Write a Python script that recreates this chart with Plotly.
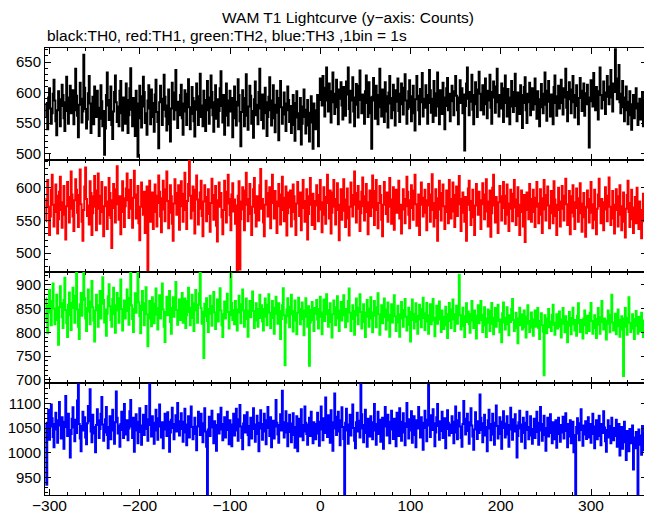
import plotly.graph_objects as go
from plotly.subplots import make_subplots

T0 = -304  # start time of first 1-s bin

th0 = [
583,561,540,592,607,574,549,566,598,621,587,553,530,571,602,589,545,578,613,596,558,537,584,626,570,549,592,611,566,580,
604,548,571,639,595,562,527,580,616,590,551,569,662,608,573,541,556,599,627,582,534,565,593,548,610,587,560,603,575,529,
557,612,586,545,570,498,541,596,633,579,555,588,610,547,524,569,601,628,584,552,577,545,603,619,566,538,592,571,549,615,
588,534,563,607,640,572,545,591,566,529,603,582,495,558,611,594,543,577,626,601,550,566,531,587,612,574,548,605,583,560,
536,597,621,568,552,509,584,611,590,547,572,629,593,561,538,579,605,548,520,574,616,589,556,600,637,571,542,585,563,596,
613,558,531,582,604,569,547,598,622,576,540,565,609,591,553,528,586,615,572,547,594,631,560,579,545,603,588,537,571,619,
592,549,575,628,601,563,536,584,612,557,589,544,570,607,635,578,551,596,531,562,615,587,546,574,603,569,591,527,558,610,
585,546,579,622,596,553,512,568,604,583,545,591,630,562,539,577,611,595,549,570,526,589,618,563,580,548,601,639,574,555,
597,541,566,608,584,529,560,593,625,571,546,587,612,558,535,580,603,567,522,591,619,576,549,564,600,582,537,571,610,588,
552,578,534,569,596,547,521,583,602,559,540,566,591,515,549,577,605,560,533,572,588,546,520,567,594,551,508,582,563,540,
571,596,512,588,623,603,579,627,592,561,608,641,587,569,615,596,551,602,633,584,565,598,621,576,548,605,590,617,579,556,
609,584,562,618,597,641,573,551,603,587,625,569,545,592,614,580,559,611,636,588,566,597,574,549,602,628,583,560,617,592,
566,508,593,624,587,557,611,583,548,596,639,576,561,605,588,552,617,594,569,543,600,627,582,558,591,613,571,546,604,585,
623,570,552,598,615,581,564,608,630,587,549,573,602,620,576,553,594,611,566,538,589,627,595,571,548,606,584,632,561,590,
575,612,596,549,583,637,604,567,590,552,619,585,562,599,633,577,548,604,589,565,616,592,540,578,607,624,571,598,553,586,
611,589,563,602,627,595,571,548,592,620,583,607,566,597,505,578,615,641,590,563,601,585,629,572,548,596,617,581,560,605,
634,598,571,589,612,564,596,623,581,558,603,587,629,575,549,601,618,592,567,610,639,584,561,596,574,615,588,552,607,628,
583,561,606,592,548,577,619,601,568,594,631,578,553,600,587,565,612,596,542,583,609,625,571,550,598,584,616,563,589,607,
572,596,623,581,557,602,589,545,576,614,598,566,591,633,580,554,603,619,585,561,597,575,548,609,628,583,562,594,611,574,
598,621,583,564,607,592,639,575,553,601,617,589,566,605,627,584,559,596,612,578,548,591,624,603,570,587,615,562,599,581,
613,592,510,586,620,605,577,632,598,571,609,585,556,602,641,596,574,588,618,600,565,593,627,610,581,604,637,592,569,615,
601,671,623,589,607,645,584,566,598,619,576,553,592,610,571,548,585,602,563,539,581,596,558,574,607,582,547,569,590,556,578,601,545,572,588,563,
]

th1 = [
549,583,612,571,528,556,597,620,574,541,563,605,588,530,552,594,617,566,539,578,603,559,521,572,609,586,547,568,625,590,
556,534,581,613,597,562,540,589,628,575,548,519,566,602,631,583,557,573,544,610,592,528,561,587,618,571,535,596,622,568,
545,588,609,563,526,572,601,579,537,558,615,592,554,508,581,606,569,547,598,633,575,551,587,529,563,610,584,540,572,599,
622,581,554,597,612,568,539,585,626,590,553,574,603,546,520,571,608,587,559,594,531,566,602,474,579,611,548,570,593,537,
563,605,588,541,577,619,594,556,532,584,611,567,549,598,625,580,538,562,604,587,545,519,576,613,592,559,571,604,536,583,
610,572,548,591,623,566,537,580,606,641,588,553,574,602,565,530,597,619,582,544,568,593,611,557,526,579,604,586,549,571,
598,560,533,577,614,589,551,569,603,542,518,581,608,571,592,555,529,566,611,594,547,576,620,583,558,535,590,607,564,582,
545,573,473,588,610,475,552,579,601,567,535,596,623,574,549,583,606,560,528,571,598,615,562,541,587,576,550,604,629,568,
583,547,526,574,611,592,556,568,601,538,577,620,584,553,595,563,531,579,606,572,544,590,617,566,549,585,602,527,561,593,
570,596,541,563,605,587,552,528,576,609,584,557,593,535,569,612,580,548,566,598,521,560,587,615,574,543,591,566,537,580,
604,573,549,589,612,567,532,578,601,559,545,586,620,577,553,596,530,562,593,612,571,544,583,607,566,520,574,598,551,587,
613,565,540,582,599,553,527,571,608,589,556,574,625,592,547,568,603,579,534,561,594,616,572,550,587,606,563,529,578,596,
557,581,619,570,543,595,612,566,538,577,603,589,551,526,574,609,587,560,593,548,571,615,582,545,567,601,536,579,597,562,
589,611,553,574,530,567,598,583,546,572,617,594,559,538,581,604,569,551,596,620,575,542,563,590,528,574,608,585,556,579,
597,562,535,581,606,573,548,590,621,566,541,577,598,554,519,584,611,567,550,592,605,572,537,563,596,581,546,612,575,553,
583,608,564,540,589,602,557,575,618,583,534,562,593,571,548,586,519,574,599,611,566,543,580,597,555,528,573,606,581,559,
594,568,537,581,607,575,552,590,613,564,541,579,596,525,561,600,620,573,547,586,564,531,578,603,587,550,569,609,574,545,
588,605,559,534,576,597,568,549,591,612,570,543,582,601,557,528,574,596,563,541,589,517,566,593,578,552,606,583,548,570,
597,563,540,585,609,571,546,576,598,559,531,584,612,567,550,589,602,573,538,561,595,579,546,610,582,557,528,574,600,566,
541,579,603,568,550,588,614,575,543,566,595,529,562,587,604,556,537,578,599,569,548,584,607,561,533,576,592,555,525,571,
596,570,547,583,609,562,538,575,597,551,529,568,590,614,572,546,583,560,535,578,601,567,549,588,616,571,543,562,595,553,
530,574,598,566,541,587,604,559,535,572,593,548,524,568,589,611,563,540,577,597,552,531,570,586,546,600,568,537,579,558,523,566,591,549,572,544,
]

th2 = [
871,823,798,856,889,842,815,866,903,850,817,838,879,826,774,853,897,861,832,809,868,915,847,819,790,858,884,836,805,862,
894,851,820,877,930,848,812,786,859,883,835,868,928,872,829,803,851,890,844,817,865,908,853,825,781,846,879,857,812,840,
887,829,860,916,868,821,848,793,839,876,901,855,826,812,870,894,838,799,857,883,846,820,872,911,849,804,836,867,829,858,
890,845,816,873,929,857,828,801,849,882,841,869,931,863,834,798,856,887,847,815,861,895,838,771,829,866,852,813,874,844,
819,860,892,837,806,851,878,829,865,903,848,812,780,843,875,836,858,887,822,797,851,874,833,862,906,847,816,841,869,826,
855,883,820,848,871,809,836,866,894,843,815,852,879,830,803,861,889,846,820,858,882,925,851,818,843,746,860,834,872,824,
801,849,877,839,814,856,885,842,807,832,869,823,851,893,846,815,790,838,865,829,856,881,843,808,836,924,862,826,847,817,
866,833,804,848,877,841,819,859,890,846,812,837,871,828,791,846,866,832,853,886,845,809,825,861,838,812,849,879,830,857,
823,804,849,871,833,815,858,880,841,809,836,866,830,797,852,875,839,818,861,845,786,828,857,893,836,731,820,848,872,834,
811,854,879,838,802,845,867,825,796,841,873,849,817,833,863,828,794,846,872,833,812,855,730,821,847,864,826,803,851,839,
868,827,808,849,875,833,796,842,869,824,851,880,838,812,847,861,822,789,838,867,844,815,853,876,829,803,846,864,825,852,
878,836,811,849,823,866,892,841,803,828,857,832,795,845,871,836,817,852,880,843,808,831,859,822,790,841,868,833,812,850,
874,829,800,842,866,835,811,853,882,838,795,826,857,819,844,871,832,806,848,863,825,791,837,859,821,847,878,834,803,829,
856,821,791,838,864,829,812,847,870,833,804,829,852,816,781,843,869,826,808,839,861,822,797,835,858,827,811,849,873,830,
805,840,862,823,797,836,859,817,844,870,825,792,831,856,818,841,865,827,801,846,833,807,829,854,815,788,838,862,824,809,
848,869,827,803,838,856,818,841,921,836,806,829,852,813,790,834,861,822,844,817,799,838,866,825,809,846,821,787,835,857,
819,842,866,826,801,837,853,815,790,829,848,820,803,845,862,818,796,831,851,812,833,858,824,800,827,779,840,863,821,806,
831,853,817,794,836,822,849,870,826,803,818,841,809,777,829,852,815,838,806,823,846,811,789,833,857,818,801,824,842,810,
793,827,846,812,833,851,809,786,824,840,815,802,710,836,820,798,829,849,811,823,803,837,858,816,795,820,838,808,826,844,
812,789,827,851,818,800,834,809,779,823,843,814,796,830,852,817,804,826,793,835,861,819,801,826,811,787,829,846,815,798,
835,819,803,841,862,824,797,818,836,809,788,828,851,816,797,832,866,822,806,829,813,785,825,846,818,800,837,879,821,804,
817,839,796,822,848,813,791,826,834,806,708,829,851,812,795,831,874,820,801,815,838,808,786,828,845,814,797,833,819,802,841,816,790,825,809,831,
]

th3 = [
1061,935,1044,1087,1026,1053,1098,1070,1032,1011,1058,1081,1047,1020,1066,1103,1055,1029,1072,1041,1008,1063,1115,1052,1034,1079,1046,990,1038,1069,
1092,1051,1023,1067,1040,1106,1141,1058,1029,1003,1054,1083,1045,1072,1031,1017,1060,1095,1064,1129,1043,1021,1077,1052,1039,1001,1056,1088,1066,1030,
1048,1079,1113,1057,1024,1041,1068,1093,1036,1009,1052,1074,1027,1060,1087,1045,1018,1062,1124,1071,1039,1055,1012,1058,1083,1046,1030,1099,1061,1037,
1066,1025,1049,1084,1107,1053,1030,1071,1002,1045,1078,1058,1019,1063,1090,1042,1016,1055,1077,1036,1061,1095,1048,1024,1068,1141,1056,1033,1074,1050,
1018,1061,1087,1045,1026,1070,1098,1053,1031,1062,1009,1047,1079,1056,1034,1082,1063,1002,1041,1067,1091,1050,1027,1058,1076,1043,1101,1064,1035,1052,
1080,1048,1022,1063,1089,1041,1015,1057,1074,1031,1066,1094,1052,1027,1045,1071,1038,1005,1053,1083,1061,1036,1079,1049,1021,1060,1090,1043,1012,914,
1047,1073,1034,1059,1085,1051,1019,1064,1042,1004,1056,1078,1039,1062,1091,1047,1025,1058,1072,1031,1046,1083,1054,1017,1066,1040,1013,1057,1079,1035,
1062,1089,1045,1024,1068,1097,1053,1030,1007,1059,1076,1041,1063,1082,1036,1015,1054,1071,1029,1048,1090,1057,1022,1044,1075,1038,1003,1061,1086,1049,
1026,1058,1079,1043,1017,1066,1093,1050,1034,1072,1011,1046,1065,1029,1053,1107,1061,1037,1020,1056,1078,1045,1126,1062,1031,1049,1084,1041,1013,1060,
1077,1042,1021,1059,1080,1036,1010,1052,1074,1003,1047,1069,1033,1088,1056,1025,1043,1094,1061,1038,1016,1057,1071,1034,1083,1048,1019,1062,1044,1027,
1058,1081,1039,1014,1063,1094,1047,1025,1070,1040,1112,1059,1032,1076,1051,1020,1086,1062,1004,1049,1120,1073,1036,1055,1083,1043,1015,1066,1092,1052,
1028,914,1061,1089,1045,1018,1057,1077,1035,1068,1098,1050,1024,1009,1062,1081,1043,1065,1031,1141,1078,1049,1021,1056,1087,1040,1012,1069,1054,1033,
1074,1051,1027,1062,1099,1045,1016,1058,1083,1038,1067,1022,1049,1071,1008,1053,1093,1060,1035,1077,1044,1019,1063,1085,1047,1028,1069,1052,1013,1081,
1056,1034,1090,1063,1024,1047,1080,1041,1015,1060,1101,1052,1029,1068,1045,1084,1020,1057,1074,1036,1011,1066,1049,1093,1058,1031,1072,1043,1006,1061,
1085,1050,1023,1067,1141,1055,1032,1076,1046,1088,1060,1013,1041,1072,1099,1054,1026,1064,1044,1083,1030,1052,1070,1009,1048,1086,1061,1035,1057,1040,
1074,1048,1019,1063,1094,1041,1027,1066,1081,1053,1030,1012,1058,1105,1069,1037,1050,1079,1044,1018,1062,1090,1055,1033,1006,1047,1082,1059,1028,1064,
1040,1118,1071,1046,1021,1060,1077,1035,1052,1003,1066,1087,1049,1025,1058,1079,1037,1016,1061,1096,1054,1029,1045,1072,1038,1008,1063,1084,1050,1031,
1059,1074,1037,1012,1056,1091,1047,1026,1068,1043,1078,1055,990,1034,1062,1085,1049,1022,1057,1071,1040,1009,1061,1083,1046,1027,1052,1074,1035,1018,
1048,1069,1030,1057,1083,1042,1016,1061,1093,1045,1024,1058,1075,1036,1004,1050,1071,1033,1055,1078,1040,1019,1062,1049,1027,1066,1010,1053,1071,1038,
1022,1056,1041,1073,1029,1050,1080,1044,1011,1058,1033,1066,1019,1047,1063,1001,1036,914,1052,1070,1039,1025,1060,1088,1046,1014,1055,1037,1064,1028,
1049,1072,1031,1058,1020,1044,1079,1038,1009,1053,1066,1027,1045,1075,1034,1015,1058,1040,1084,1051,1023,1002,1046,1066,1031,1054,1019,1071,1043,1025,
1050,1034,1067,1012,1041,1058,994,1029,1052,1008,1037,1063,1021,985,1044,1027,1003,1048,1019,1036,1055,966,1031,1009,1042,1025,914,1047,1016,1035,996,1054,1022,1005,1040,1018,
]

series = [th0, th1, th2, th3]
colors = ["#000000", "#ff0000", "#00ff00", "#0000ff"]
y_ranges = [[490, 673], [472, 643], [693, 928], [914, 1141]]
x_range = [-305, 362]

title_text = "WAM T1 Lightcurve (y\u2212axis: Counts)"
subtitle_text = "black:TH0, red:TH1, green:TH2, blue:TH3 ,1bin = 1s"

fig = make_subplots(rows=4, cols=1, shared_xaxes=True, vertical_spacing=0)

for i, (vals, col) in enumerate(zip(series, colors)):
    xs = [T0 + k for k in range(len(vals))]
    fig.add_trace(go.Scatter(x=xs, y=vals, mode="lines", line=dict(color=col, width=2, shape="hvh"),
                             showlegend=False, hoverinfo="skip"), row=i + 1, col=1)

font_family = "Liberation Sans, Arial, sans-serif"
y_tick_font = dict(size=15, color="black", family=font_family)
x_tick_font = dict(size=15.5, color="black", family=font_family)
for i in range(4):
    fig.update_yaxes(range=y_ranges[i], dtick=50, ticks="inside", ticklen=6, tickwidth=1,
                     tickcolor="black", showline=True, linecolor="black", linewidth=1,
                     mirror="allticks", showgrid=False, zeroline=False, automargin=False,
                     minor=dict(ticks="inside", dtick=10, ticklen=3, tickcolor="black"),
                     tickfont=y_tick_font, row=i + 1, col=1)
    fig.update_xaxes(range=x_range, dtick=100, ticks="inside", ticklen=6, tickwidth=1,
                     tickcolor="black", showline=True, linecolor="black", linewidth=1,
                     mirror="allticks", showgrid=False, zeroline=False, automargin=False,
                     minor=dict(ticks="inside", dtick=20, ticklen=3, tickcolor="black"),
                     tickfont=x_tick_font, showticklabels=(i == 3), row=i + 1, col=1)
fig.update_xaxes(ticklabelstandoff=-4, row=4, col=1)

# the page adds an 8px body margin, so figure coordinates are offset by 8px
W, H = 644, 507
plot_left, plot_right = 37, 639
plot_top, plot_bottom = 40, 487
ph = plot_bottom - plot_top

fig.update_layout(
    width=W, height=H,
    margin=dict(l=plot_left, r=W - plot_right, t=plot_top, b=H - plot_bottom),
    paper_bgcolor="white", plot_bgcolor="white",
    font=dict(family=font_family, color="black", size=15),
    annotations=[
        dict(text=title_text, xref="paper", yref="paper", x=0.503, y=1 + (plot_top - 9) / ph,
             xanchor="center", yanchor="middle", showarrow=False,
             font=dict(size=15.5, color="black", family=font_family)),
        dict(text=subtitle_text, xref="paper", yref="paper", x=0.0, y=1 + (plot_top - 27) / ph,
             xanchor="left", yanchor="middle", showarrow=False,
             font=dict(size=15.5, color="black", family=font_family)),
    ],
)

fig.write_html("out.html")
